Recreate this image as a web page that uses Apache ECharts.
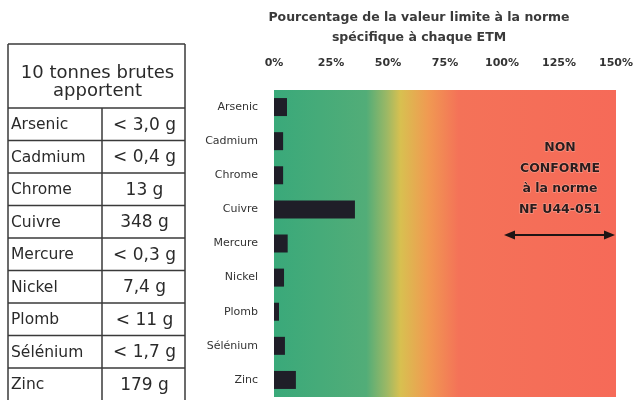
<!DOCTYPE html>
<html>
<head>
<meta charset="utf-8">
<script src="https://cdn.jsdelivr.net/npm/echarts@6/dist/echarts.min.js"></script>
<style>
  html, body { margin: 0; padding: 0; background: #fff; }
  #chart { width: 636px; height: 400px; }
</style>
</head>
<body>
<div id="chart"></div>
<script>
const categories = ["Arsenic", "Cadmium", "Chrome", "Cuivre", "Mercure", "Nickel", "Plomb", "Sélénium", "Zinc"];
// pourcentage de la valeur limite
const percentOfLimit = [5.7, 4, 4, 35.5, 6, 4.4, 2.2, 4.8, 9.6];
const tableHeader = ["10 tonnes brutes", "apportent"];
const tableAmounts = ["< 3,0 g", "< 0,4 g", "13 g", "348 g", "< 0,3 g", "7,4 g", "< 11 g", "< 1,7 g", "179 g"];
const axisMin = 0;
const axisMax = 150;
const axisStep = 25;
const noteLines = ["NON", "CONFORME", "à la norme", "NF U44-051"];
const limitRange = [100, 150];

const FONT = "DejaVu Sans";
const chart = echarts.init(document.getElementById("chart"));

// tableau de gauche
const tbl = { left: 8, right: 185, top: 44, head: 108, row: 32.5, col: 102 };
const lineStyle = { stroke: "#3a3a3a", lineWidth: 1.5 };
const tableEls = [];
const vline = (x, y1, y2) => tableEls.push({ type: "line", shape: { x1: x, y1, x2: x, y2 }, style: lineStyle });
const hline = (y) => tableEls.push({ type: "line", shape: { x1: tbl.left, y1: y, x2: tbl.right, y2: y }, style: lineStyle });
vline(tbl.left, tbl.top, 400);
vline(tbl.right, tbl.top, 400);
vline(tbl.col, tbl.head, 400);
hline(tbl.top);
tableHeader.forEach((t, i) => {
  tableEls.push({
    type: "text", x: (tbl.left + tbl.right) / 2 + 1, y: 73 + i * 18,
    style: { text: t, font: `18px "${FONT}"`, fill: "#2a2a2a", textAlign: "center", textVerticalAlign: "middle" }
  });
});
categories.forEach((name, i) => {
  const y0 = tbl.head + i * tbl.row;
  hline(y0);
  tableEls.push({
    type: "text", x: tbl.left + 3, y: y0 + tbl.row / 2 + 1,
    style: { text: name, font: `15.5px "${FONT}"`, fill: "#2a2a2a", textVerticalAlign: "middle" }
  });
  tableEls.push({
    type: "text", x: (tbl.col + tbl.right) / 2 + 1, y: y0 + tbl.row / 2 + 1,
    style: { text: tableAmounts[i], font: `17px "${FONT}"`, fill: "#2a2a2a", textAlign: "center", textVerticalAlign: "middle" }
  });
});

chart.setOption({
  animation: false,
  backgroundColor: "#fff",
  title: {
    text: "Pourcentage de la valeur limite à la norme\nspécifique à chaque ETM",
    left: 414,
    top: 3,
    textAlign: "center",
    textStyle: { fontFamily: FONT, fontSize: 12.5, fontWeight: "bold", color: "#3a3a3a", lineHeight: 20 }
  },
  grid: {
    left: 274, right: 20, top: 90, bottom: 3,
    show: true,
    borderWidth: 0,
    backgroundColor: new echarts.graphic.LinearGradient(0, 0, 1, 0, [
      { offset: 0, color: "#3aa97a" },
      { offset: 0.27, color: "#52ad78" },
      { offset: 0.33, color: "#9cb865" },
      { offset: 0.37, color: "#d8c050" },
      { offset: 0.45, color: "#f09a52" },
      { offset: 0.54, color: "#f47258" },
      { offset: 1, color: "#f66a58" }
    ])
  },
  xAxis: {
    type: "value",
    position: "top",
    min: axisMin,
    max: axisMax,
    interval: axisStep,
    axisLine: { show: false },
    axisTick: { show: false },
    splitLine: { show: false },
    axisLabel: {
      formatter: "{value}%",
      margin: 21,
      fontFamily: FONT, fontSize: 11, fontWeight: "bold", color: "#333"
    }
  },
  yAxis: {
    type: "category",
    inverse: true,
    data: categories,
    axisLine: { show: false },
    axisTick: { show: false },
    axisLabel: { margin: 16, fontFamily: FONT, fontSize: 11, color: "#333" }
  },
  series: [{
    type: "bar",
    data: percentOfLimit,
    barWidth: 18,
    itemStyle: { color: "#1f1e28" }
  }],
  graphic: tableEls
});

// annotation "non conforme" et flèche, placées sur l'axe des pourcentages
const xa = chart.convertToPixel({ xAxisIndex: 0 }, limitRange[0]) + 2;
const xb = chart.convertToPixel({ xAxisIndex: 0 }, limitRange[1]) - 1;
const xc = chart.convertToPixel({ xAxisIndex: 0 }, (limitRange[0] + limitRange[1]) / 2);
const ay = 235;
const noteEls = noteLines.map((t, i) => ({
  type: "text", x: xc + 1, y: 148 + i * 20.5,
  style: {
    text: t, font: `bold 12.5px "${FONT}"`, fill: "#2a1c1c",
    textAlign: "center", textVerticalAlign: "middle",
    stroke: "rgba(255,220,210,0.5)", lineWidth: 1
  }
}));
noteEls.push(
  { type: "line", shape: { x1: xa + 8, y1: ay, x2: xb - 8, y2: ay }, style: { stroke: "#1e1414", lineWidth: 2.2 } },
  { type: "polygon", shape: { points: [[xa, ay], [xa + 11, ay - 4.5], [xa + 11, ay + 4.5]] }, style: { fill: "#1e1414" } },
  { type: "polygon", shape: { points: [[xb, ay], [xb - 11, ay - 4.5], [xb - 11, ay + 4.5]] }, style: { fill: "#1e1414" } }
);
chart.setOption({ graphic: tableEls.concat(noteEls) });
</script>
</body>
</html>
